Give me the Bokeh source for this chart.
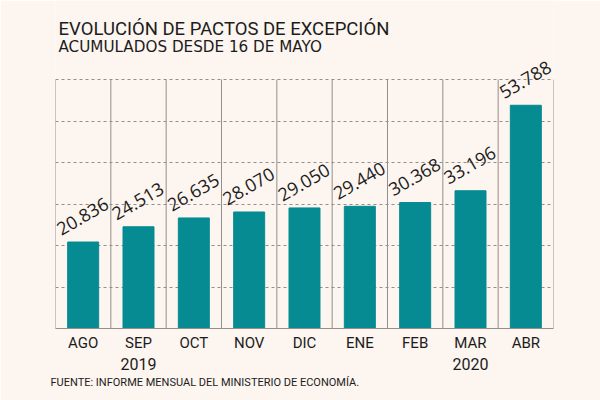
import math
from bokeh.plotting import figure
from bokeh.models import FixedTicker, LinearAxis, Title, Label, Range1d
from bokeh.core.properties import value
from bokeh.embed import file_html
from bokeh.resources import INLINE

# Accumulated exception agreements since 16 May, by month
months = ["AGO", "SEP", "OCT", "NOV", "DIC", "ENE", "FEB", "MAR", "ABR"]
pactos = [20836, 24513, 26635, 28070, 29050, 29440, 30368, 33196, 53788]
year_marks = {"SEP": "2019", "MAR": "2020"}
y_ticks = [0, 10000, 20000, 30000, 40000, 50000, 60000]

BG = "#fdf5ef"
TEAL = "#058b91"
GRID = "#938f8b"
INK = "#1c1c1c"

GRID_TOP = 79       # canvas px of the 60.000 line
BASE = 328          # canvas px of the baseline
# the frame reaches the top of the canvas so headings and labels stay inside it
y_max = y_ticks[-1] * BASE / (BASE - GRID_TOP)

centers = [i + 0.5 for i in range(len(months))]
edges = list(range(len(months) + 1))
value_labels = [f"{v:,}".replace(",", ".") for v in pactos]

p = figure(width=600, height=400, output_backend="svg", toolbar_location=None,
           title=None,
           x_range=Range1d(0, len(months)), y_range=Range1d(0, y_max),
           min_border_left=55, min_border_right=47, min_border_top=0,
           min_border_bottom=400 - BASE, background_fill_color=BG,
           border_fill_color=BG)
p.outline_line_color = None
p.xgrid.visible = False

# dashed horizontal guides
p.ygrid.ticker = FixedTicker(ticks=y_ticks)
p.ygrid.grid_line_color = GRID
p.ygrid.grid_line_dash = "3 3"
p.ygrid.grid_line_width = 1

# solid column separators up to the top guide
p.segment(x0=edges, y0=[0] * len(edges), x1=edges, y1=[y_ticks[-1]] * len(edges),
          line_color=GRID, line_width=1)

p.vbar(x=centers, top=pactos, width=0.56, color=TEAL)

# rotated value labels, anchored at each column's left edge
p.text(x=edges[:-1], y=pactos, text=value_labels,
       angle=math.radians(30), x_offset=6, y_offset=-6,
       text_align="left", text_baseline="bottom",
       text_font=value("Open Sans"), text_font_size="18px", text_color=INK)

p.yaxis.visible = False

xa = p.xaxis[0]
xa.ticker = FixedTicker(ticks=centers)
xa.major_label_overrides = {c: m for c, m in zip(centers, months)}
xa.axis_line_color = GRID
xa.major_tick_line_color = None
xa.major_tick_out = 0
xa.major_tick_in = 0
xa.minor_tick_line_color = None
xa.major_label_text_font = "Roboto"
xa.major_label_text_font_size = "15px"
xa.major_label_text_color = INK
xa.major_label_standoff = 5

year_pos = [c for c, m in zip(centers, months) if m in year_marks]
ya = LinearAxis(ticker=FixedTicker(ticks=year_pos),
                major_label_overrides={c: year_marks[m] for c, m in zip(centers, months) if m in year_marks})
ya.axis_line_color = None
ya.major_tick_line_color = None
ya.major_tick_out = 0
ya.major_tick_in = 0
ya.minor_tick_line_color = None
ya.major_label_text_font = "Roboto"
ya.major_label_text_font_size = "16px"
ya.major_label_text_color = INK
ya.major_label_standoff = 3
p.add_layout(ya, "below")

# headings, in screen px measured from the frame's lower-left corner
p.add_layout(Label(x=3, y=BASE - 28, x_units="screen", y_units="screen",
                   text="EVOLUCIÓN DE PACTOS DE EXCEPCIÓN", text_font="Roboto",
                   text_font_size="18.5px", text_color=INK,
                   text_baseline="alphabetic"))
p.add_layout(Label(x=3, y=BASE - 46, x_units="screen", y_units="screen",
                   text="ACUMULADOS DESDE 16 DE MAYO", text_font="DejaVu Sans",
                   text_font_size="15.2px", text_color=INK,
                   text_baseline="alphabetic"))

p.add_layout(Title(text="FUENTE: INFORME MENSUAL DEL MINISTERIO DE ECONOMÍA.",
                   text_font="Roboto", text_font_size="11px", text_font_style="normal",
                   text_color=INK, align="left", offset=-5, standoff=3), "below")

open("out.html", "w").write(file_html(p, INLINE))
